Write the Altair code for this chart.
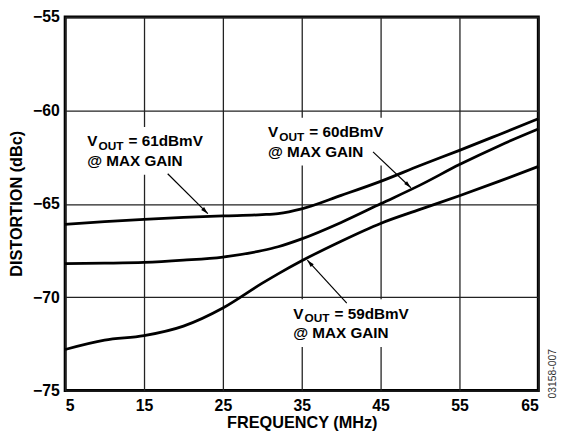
import altair as alt
import pandas as pd

# ---- data ----
freq = [5, 10, 15, 20, 25, 30, 32, 35, 40, 45, 50, 55, 60, 65]
dist_61 = [-66.1, -65.95, -65.83, -65.73, -65.65, -65.58, -65.52, -65.27, -64.55, -63.8, -62.95, -62.14, -61.3, -60.45]
dist_60 = [-68.2, -68.18, -68.14, -68.02, -67.85, -67.5, -67.3, -66.88, -66.0, -65.0, -64.0, -62.9, -61.9, -61.0]
dist_59 = [-72.8, -72.3, -72.06, -71.55, -70.58, -69.25, -68.75, -68.05, -67.0, -66.05, -65.3, -64.57, -63.8, -63.0]
series_names = ["61dBmV", "60dBmV", "59dBmV"]

x_ticks = [5, 15, 25, 35, 45, 55, 65]
y_ticks = [-75, -70, -65, -60, -55]

# annotation anchors (frequency, distortion of first-line baseline)
label_f = [7.79, 30.71, 33.91]
label_d = [-61.93, -61.44, -71.15]
label_val = ["= 61dBmV", "= 60dBmV", "= 59dBmV"]

# arrows: start (near text) -> tip (on curve)
arrow_f0 = [18.0, 44.04, 40.71]
arrow_d0 = [-63.39, -62.22, -70.32]
arrow_f1 = [23.09, 48.84, 35.71]
arrow_d1 = [-65.53, -64.14, -68.02]
arrow_angle = [135, 134, 318]

rows = []
for name, vals in zip(series_names, [dist_61, dist_60, dist_59]):
    for f, d in zip(freq, vals):
        rows.append({"f": f, "d": d, "s": name})
curves = pd.DataFrame(rows)

labels = pd.DataFrame({
    "f": label_f, "d": label_d, "val": label_val,
    "fx0": [f - 0.5 for f in label_f], "fx1": [f + 15.5 for f in label_f],
    "dy0": [d + 1.04 for d in label_d], "dy1": [d - 1.51 for d in label_d],
})
arrows = pd.DataFrame({"f0": arrow_f0, "d0": arrow_d0, "f1": arrow_f1,
                       "d1": arrow_d1, "ang": arrow_angle})

FONT = "Liberation Sans"
xs = alt.Scale(domain=[5, 65], nice=False, zero=False)
ys = alt.Scale(domain=[-75, -55], nice=False, zero=False)

X = alt.X("f:Q", scale=xs, axis=alt.Axis(values=x_ticks, title="FREQUENCY (MHz)",
          labelPadding=7, titleY=37, titleBaseline="alphabetic"))
Y = alt.Y("d:Q", scale=ys, axis=alt.Axis(values=y_ticks, title="DISTORTION (dBc)",
          labelPadding=6, titleX=-49, titleY=189, titleAngle=270,
          titleAlign="center", titleBaseline="middle"))

lines = alt.Chart(curves).mark_line(strokeWidth=2.8, interpolate="monotone").encode(
    x=X, y=Y,
    color=alt.Color("s:N", scale=alt.Scale(range=["black", "black", "black"]), legend=None),
    detail="s:N",
)

bg = alt.Chart(labels).mark_rect(color="white").encode(
    x=alt.X("fx0:Q", scale=xs), x2="fx1:Q",
    y=alt.Y("dy0:Q", scale=ys), y2="dy1:Q",
)

txt_common = dict(font=FONT, fontWeight="bold", align="left", baseline="alphabetic", color="black")
t_v = alt.Chart(labels).mark_text(text="V", fontSize=15.5, **txt_common).encode(
    x=alt.X("f:Q", scale=xs), y=alt.Y("d:Q", scale=ys))
t_out = alt.Chart(labels).mark_text(text="OUT", fontSize=12, dx=11.5, dy=3.5, **txt_common).encode(
    x=alt.X("f:Q", scale=xs), y=alt.Y("d:Q", scale=ys))
t_val = alt.Chart(labels).mark_text(fontSize=15.5, dx=42, **txt_common).encode(
    x=alt.X("f:Q", scale=xs), y=alt.Y("d:Q", scale=ys), text="val:N")
t_gain = alt.Chart(labels).mark_text(text="@ MAX GAIN", fontSize=15.5, dy=20, **txt_common).encode(
    x=alt.X("f:Q", scale=xs), y=alt.Y("d:Q", scale=ys))

shafts = alt.Chart(arrows).mark_rule(strokeWidth=1.2, color="black").encode(
    x=alt.X("f0:Q", scale=xs), x2="f1:Q",
    y=alt.Y("d0:Q", scale=ys), y2="d1:Q",
)
heads = alt.Chart(arrows).mark_point(
    shape="M0,0L-0.28,1L0.28,1Z", filled=True, color="black", opacity=1, size=220, strokeWidth=0
).encode(
    x=alt.X("f1:Q", scale=xs), y=alt.Y("d1:Q", scale=ys),
    angle=alt.Angle("ang:Q", scale=None),
)

code = alt.Chart(pd.DataFrame({"t": ["03158-007"]})).mark_text(
    font=FONT, fontSize=10.5, angle=270, align="center", baseline="middle", color="#333"
).encode(x=alt.value(495), y=alt.value(362), text="t:N")

chart = alt.layer(lines, bg, shafts, heads, t_v, t_out, t_val, t_gain, code).properties(
    width=480, height=379,
    autosize=alt.AutoSizeParams(type="none"),
    padding={"left": 58, "top": 6, "right": 22, "bottom": 47},
).configure_axis(
    grid=True, gridColor="#222", gridWidth=1.3, domain=False, ticks=False,
    labelFont=FONT, labelFontWeight="bold", labelFontSize=16, labelColor="black",
    titleFont=FONT, titleFontWeight="bold", titleFontSize=16.5, titleColor="black",
).configure_view(stroke="black", strokeWidth=3)

chart.save("out.html", embed_options={"renderer": "svg", "actions": False})
